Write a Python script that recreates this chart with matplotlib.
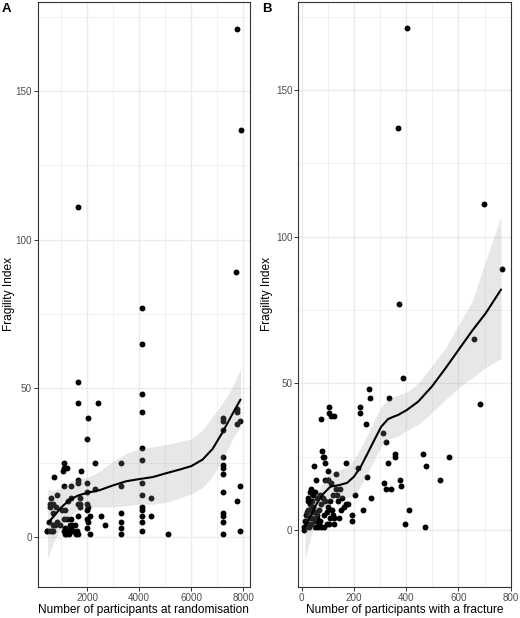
import matplotlib
matplotlib.use("Agg")
import matplotlib.pyplot as plt
from matplotlib.ticker import FixedLocator

# ---------------- data: panel A ----------------
a_x = [7755, 7910, 1663, 7720, 4107, 4107,
       4107, 4107, 4107, 4107, 4107, 4107, 4107, 4107, 4107, 4107, 4107,
       4439, 4439,
       3291, 3291, 3291, 3291, 3291, 3291,
       2551, 2704, 2321, 2321, 2436, 5115,
       7207, 7207, 7207, 7207, 7207, 7207, 7207, 7207, 7207, 7207, 7207, 7207,
       7755, 7755, 7755, 7755, 7895, 7895, 7895,
       480, 590, 680, 540, 830, 970, 690, 590, 680, 800, 600, 830, 715,
       1070, 1100, 1240, 1120, 1110, 1365, 1020, 1170, 1100, 1240, 1390,
       1100, 1180, 1250, 1330, 1380, 1420, 1520, 1600, 1660, 1660, 1660,
       1740, 1710, 1660, 1660, 1775, 1720, 1390, 1990, 2015, 2000, 2020,
       2010, 1990, 2040, 2000, 2120, 2120, 2030, 2010, 1660, 1660,
       1150, 1200, 1300, 1150, 450, 640, 570, 765, 700, 1250, 1450, 1560]
a_y = [171, 137, 111, 89, 77, 65,
       48, 42, 30, 26, 18, 14, 10, 9, 7, 5, 2,
       13, 7,
       25, 17, 8, 5, 3, 1,
       7, 4, 25, 16, 45, 1,
       40, 39, 36, 27, 24, 23, 21, 15, 8, 7, 5, 1,
       43, 42, 38, 12, 39, 17, 2,
       2, 2, 2, 5, 5, 4, 8, 11, 11, 10, 13, 14, 20,
       22, 23, 23, 25, 17, 17, 9, 9, 6, 6, 6,
       2, 1, 2, 4, 3, 4, 4, 2, 1, 7, 11,
       11, 10, 18, 19, 22, 13, 13, 15, 18, 11, 10,
       9, 6, 5, 3, 1, 7, 40, 33, 52, 45,
       1, 2, 1, 3, 2, 2, 10, 4, 4, 12, 2, 1]

a_fit_x = [485, 700, 1020, 1340, 1658, 2003, 2487, 2997, 3508, 3992, 4528,
           5000, 5548, 6008, 6441, 6824, 7207, 7589, 7895]
a_fit_y = [4.5, 6.7, 10, 12.5, 13.9, 14.8, 15.7, 17.3, 18.7, 19.4, 20.1,
           21.3, 22.6, 23.8, 26, 29.6, 35.2, 41.4, 46.2]
a_fit_hi = [16, 15.5, 16.5, 18.5, 19.5, 20, 22, 25.5, 28, 29.5, 30.3,
            31, 32, 33, 36, 40.5, 45, 50.5, 56.5]
a_fit_lo = [-7.5, -2, 3.5, 7, 9, 10, 10, 10, 10.5, 11, 11,
            11.5, 13, 14.5, 16.5, 20.5, 26, 33, 37]

# ---------------- data: panel B ----------------
b_x = [403, 367, 697, 766, 371, 658, 388, 681,
       256, 262, 334, 222, 225, 247, 105, 105, 111, 123, 75, 311, 324, 356,
       356, 331, 464, 476, 564, 531, 314, 323, 343, 377, 379, 264, 233, 410,
       396, 472, 169, 214, 251, 205, 191, 191, 178, 77, 81, 85, 89, 47, 101,
       54, 130, 99, 112, 35, 50, 146, 136, 161, 150, 169, 121, 123, 143, 106,
       124, 86, 62, 9,
       20, 15, 25, 30, 40, 45, 55, 60, 70, 18, 12, 28, 35, 40, 50, 65, 75,
       80, 90, 95, 100, 110, 85, 70, 60, 45, 25, 30, 22, 50, 75, 95, 110,
       115, 120, 130, 140, 155, 30, 42, 88, 100, 34, 23, 8, 14, 38, 58, 68]
b_y = [171, 137, 111, 89, 77, 65, 52, 43,
       48, 45, 45, 42, 40, 36, 42, 40, 39, 39, 38, 33, 30, 26,
       25, 23, 26, 22, 25, 17, 16, 14, 14, 17, 15, 11, 7, 7,
       2, 1, 23, 21, 18, 12, 5, 3, 9, 27, 25, 25, 23, 22, 20,
       17, 19, 17, 16, 13, 13, 14, 12, 8, 7, 9, 5, 4, 4, 2,
       2, 1, 1, 1,
       2, 5, 7, 9, 10, 8, 6, 4, 3, 3, 1, 1, 2, 4, 3, 7, 9,
       11, 10, 6, 8, 10, 5, 12, 11, 12, 11, 4, 6, 1, 1, 2, 4,
       7, 12, 14, 10, 11, 13, 6, 17, 17, 14, 10, 0, 3, 8, 5, 2]

b_fit_x = [12, 32, 58, 84, 110, 142, 174, 200, 226, 252, 278, 304, 330,
           350, 368, 402, 446, 498, 550, 601, 653, 705, 763]
b_fit_y = [1.1, 4.5, 9.1, 12.5, 14.8, 15.3, 16.1, 18.2, 21.6, 26.1, 30.7,
           35.2, 37.8, 38.6, 39.2, 40.9, 43.8, 48.9, 55.1, 61.5, 68, 74, 82]
b_fit_hi = [7, 9, 12.5, 17, 19.5, 20.5, 21.5, 24, 28, 32.5, 37.5,
            42, 44.5, 45.3, 46, 47, 50, 56, 62, 70, 78, 92, 107]
b_fit_lo = [-10, -3, 4, 8, 10.5, 11, 11, 12, 15, 19.5, 24,
            28.5, 31, 31.5, 32, 34, 36, 40, 44.5, 48.5, 52, 55.5, 58.5]

a_xticks = [2000, 4000, 6000, 8000]
b_xticks = [0, 200, 400, 600, 800]
y_ticks = [0, 50, 100, 150]

# ---------------- figure ----------------
plt.rcParams['font.family'] = ['Liberation Sans', 'DejaVu Sans']
W, H = 520, 618
fig = plt.figure(figsize=(W / 100, H / 100), dpi=100)


def px_axes(l, t, r, b):
    return fig.add_axes([l / W, 1 - b / H, (r - l) / W, (b - t) / H])


axA = px_axes(37.7, 2, 250, 586.7)
axB = px_axes(298.3, 2, 510.7, 586.7)

grid_c = '#EBEBEB'
border_c = '#333333'


def style(ax, xlim, ylim, xticks, xminor, yminor, ylab_x):
    ax.set_xlim(*xlim)
    ax.set_ylim(*ylim)
    ax.set_xticks(xticks)
    ax.set_yticks(y_ticks)
    ax.xaxis.set_minor_locator(FixedLocator(xminor))
    ax.yaxis.set_minor_locator(FixedLocator(yminor))
    ax.grid(which='major', color=grid_c, lw=1.0, zorder=0)
    ax.grid(which='minor', color=grid_c, lw=0.5, zorder=0)
    ax.set_axisbelow(True)
    for s in ax.spines.values():
        s.set_color(border_c)
        s.set_linewidth(0.8)
    ax.tick_params(which='major', length=2.8, width=0.7, color=border_c,
                   labelsize=7.1, labelcolor='#4D4D4D', pad=1.5)
    ax.tick_params(which='minor', length=0)
    ax.set_ylabel('Fragility Index', fontsize=8.6)
    ax.yaxis.set_label_coords(ylab_x, 0.5)


for ax, xs, ys, fx, fy, fhi, flo in [
        (axA, a_x, a_y, a_fit_x, a_fit_y, a_fit_hi, a_fit_lo),
        (axB, b_x, b_y, b_fit_x, b_fit_y, b_fit_hi, b_fit_lo)]:
    ax.scatter(xs, ys, s=18, color='black', linewidths=0, zorder=2)
    ax.fill_between(fx, flo, fhi, color='#999999', alpha=0.23, lw=0, zorder=3)
    ax.plot(fx, fy, color='black', lw=1.5, zorder=4,
            solid_joinstyle='round', solid_capstyle='round')

style(axA, (104, 8260), (-16.8, 180), a_xticks,
      [1000, 3000, 5000, 7000], [25, 75, 125, 175], -0.107)
style(axB, (-13, 800), (-19.3, 180), b_xticks,
      [100, 300, 500, 700], [25, 75, 125, 175], -0.119)

axA.set_xlabel('Number of participants at randomisation', fontsize=8.6, labelpad=1)
axB.set_xlabel('Number of participants with a fracture', fontsize=8.6, labelpad=1)

fig.text(2 / W, 1 - 9 / H, 'A', fontsize=9.5, fontweight='bold', va='center', ha='left')
fig.text(262 / W, 1 - 9 / H, 'B', fontsize=9.5, fontweight='bold', va='center', ha='left')

fig.savefig('out.png', dpi=100)
